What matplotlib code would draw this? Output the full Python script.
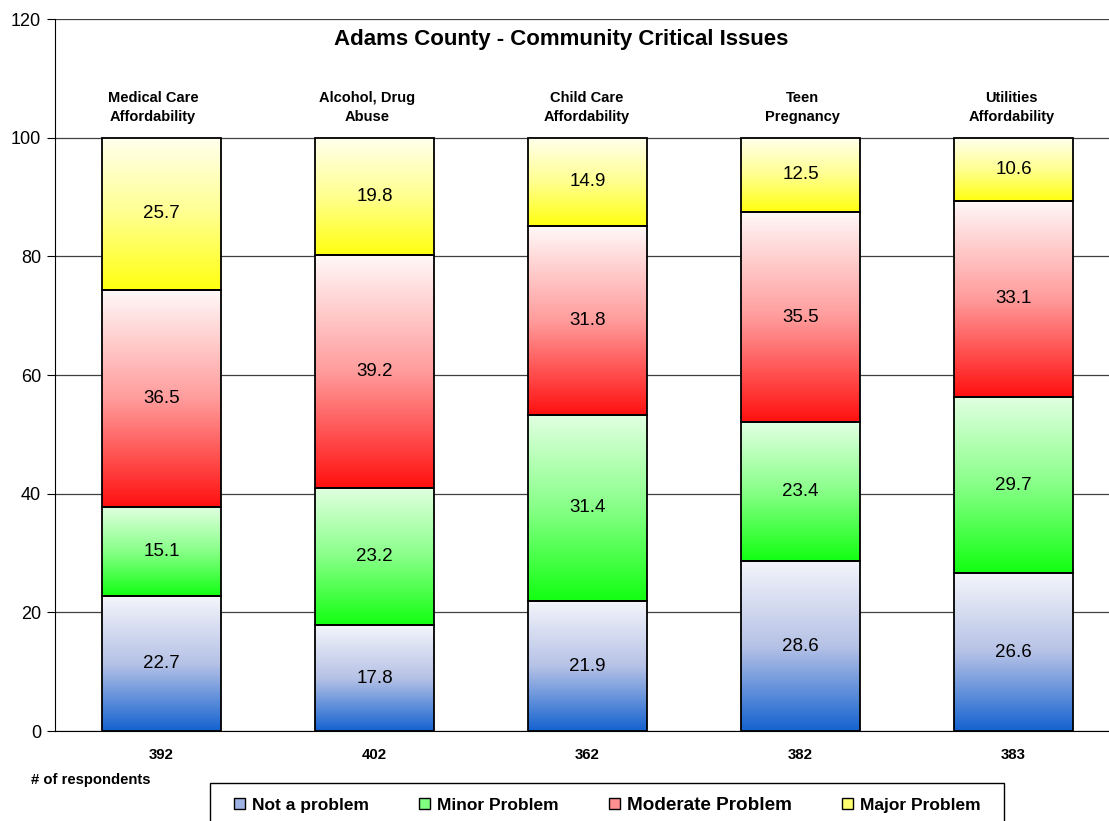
import matplotlib
matplotlib.use("Agg")
import matplotlib.pyplot as plt
import numpy as np
from matplotlib.colors import LinearSegmentedColormap
from matplotlib.patches import Patch, Rectangle

plt.rcParams['font.family'] = ['Liberation Sans', 'DejaVu Sans']

# Data
issues = ["Medical Care\nAffordability", "Alcohol, Drug\nAbuse", "Child Care\nAffordability",
          "Teen\nPregnancy", "Utilities\nAffordability"]
respondents = ["392", "402", "362", "382", "383"]
series_names = ["Not a problem", "Minor Problem", "Moderate Problem", "Major Problem"]
not_problem = [22.7, 17.8, 21.9, 28.6, 26.6]
minor = [15.1, 23.2, 31.4, 23.4, 29.7]
moderate = [36.5, 39.2, 31.8, 35.5, 33.1]
major = [25.7, 19.8, 14.9, 12.5, 10.6]

# gradient colours (top -> bottom)
grads = [
    ["#f4f5fb", "#b6c2e6", "#1462d0"],
    ["#e2ffe2", "#88ff88", "#12ff12"],
    ["#fff8f8", "#ff9c9c", "#ff1010"],
    ["#ffffee", "#ffff90", "#ffff10"],
]
legend_cols = ["#9fb2e4", "#80ff80", "#ff9090", "#ffff70"]

W, H = 1109, 821
fig = plt.figure(figsize=(W/100, H/100), dpi=100)
ax = fig.add_axes([55/W, 1 - 731/H, 1065/W, 712/H])

x = np.arange(len(issues))
width = 0.555
bottom = np.zeros(len(issues))
grad = np.linspace(0, 1, 256).reshape(-1, 1)

for vals, cols in zip([not_problem, minor, moderate, major], grads):
    cmap = LinearSegmentedColormap.from_list("g", cols[::-1])
    bars = ax.bar(x, vals, width, bottom=bottom, facecolor='none', edgecolor='black',
                  linewidth=1.3, zorder=4)
    for b, v in zip(bars, vals):
        x0, y0 = b.get_x(), b.get_y()
        im = ax.imshow(grad, cmap=cmap, origin='lower', aspect='auto', zorder=3,
                       extent=(x0, x0 + b.get_width(), y0, y0 + b.get_height()))
        im.set_clip_path(b)
        ax.text(x0 + b.get_width()/2, y0 + v/2, f"{v:.1f}", ha='center', va='center',
                fontsize=13.5, zorder=5)
    bottom += np.array(vals)

# Category labels above bars (small nudges like the original)
nudge = [-0.04, -0.035, -0.005, 0.01, -0.01]
for i, name in enumerate(issues):
    ax.text(i + nudge[i], 105.1, name, ha='center', va='center', fontsize=10.5,
            fontweight='bold', linespacing=1.4)

ax.set_xlim(-0.5, 4.5)
ax.set_ylim(0, 120)
ax.set_yticks(np.arange(0, 121, 20))
ax.tick_params(axis='y', labelsize=13, length=6, direction='out', pad=4)
ax.set_xticks(x)
ax.set_xticklabels(respondents, fontsize=10.8, fontweight='bold')
ax.tick_params(axis='x', length=0, pad=12)
ax.grid(axis='y', color='#404040', linewidth=0.9)
ax.set_axisbelow(True)
for s in ['top', 'right']:
    ax.spines[s].set_visible(False)

fig.text(561/W, 1 - 40/H, "Adams County - Community Critical Issues",
         ha='center', va='center', fontsize=16, fontweight='bold')
fig.text(31/W, 1 - 780/H, "# of respondents", ha='left', va='center',
         fontsize=10.6, fontweight='bold')

# legend box (runs off the bottom edge)
fig.add_artist(Rectangle((210/W, -0.02), (1004 - 210)/W, 0.02 + 1 - 783/H,
                         transform=fig.transFigure, facecolor='white',
                         edgecolor='black', linewidth=1.0))
handles = [Patch(facecolor=c, edgecolor='black', linewidth=1.0) for c in legend_cols]
leg = fig.legend(handles, series_names, loc='center left', ncol=4,
                 bbox_to_anchor=(234/W, 1 - 805/H), frameon=False,
                 prop={'size': 12.5, 'weight': 'bold'},
                 handlelength=0.63, handleheight=0.63, handletextpad=0.4,
                 columnspacing=2.9, borderpad=0, borderaxespad=0)
# the original shows "Moderate Problem" a bit larger
leg.get_texts()[2].set_fontsize(13.6)

plt.savefig("out.png", dpi=100)
